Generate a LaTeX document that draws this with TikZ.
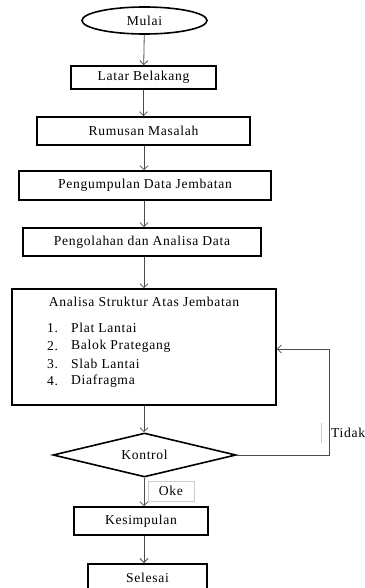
\documentclass[tikz,border=0pt]{standalone}
\usepackage{fontspec}
\setmainfont{Liberation Serif}
\usetikzlibrary{shapes.geometric,arrows.meta}
\begin{document}
\begin{tikzpicture}[x=1pt,y=-1pt,
  txt/.style={font=\fontsize{13.6}{15}\selectfont\addfontfeature{LetterSpace=5}},
  boxn/.style={draw=black,line width=1.6pt,rectangle,inner sep=0pt,txt},
  conn/.style={draw=black!70,line width=0.8pt,-{Straight Barb[length=4pt,width=8pt]}},
  lbl/.style={draw=black!20,line width=0.6pt,fill=white,inner sep=0pt,txt}]
\useasboundingbox (0,0) rectangle (364,588);
\node[draw=black,line width=1.6pt,ellipse,minimum width=125pt,minimum height=27pt,inner sep=0pt,txt] (mulai) at (144.5,20.5) {Mulai};
\node[boxn,minimum width=145pt,minimum height=23pt] (latar) at (143.5,77.5) {Latar Belakang};
\node[boxn,minimum width=213pt,minimum height=28pt] (rumusan) at (143.5,131) {Rumusan Masalah};
\node[boxn,minimum width=252pt,minimum height=29pt] (kumpul) at (145,185.5) {Pengumpulan Data Jembatan};
\node[boxn,minimum width=238pt,minimum height=28pt] (olah) at (142,242) {Pengolahan dan Analisa Data};
\node[boxn,minimum width=264pt,minimum height=116pt] (asb) at (144,347) {};
\node[txt,anchor=center] (asbt) at (144,302) {Analisa Struktur Atas Jembatan};
\node[txt,anchor=west,inner sep=0pt] (i1n) at (47,328) {1.};
\node[txt,anchor=west,inner sep=0pt] (i1) at (71,328) {Plat Lantai};
\node[txt,anchor=west,inner sep=0pt] (i2n) at (47,346) {2.};
\node[txt,anchor=west,inner sep=0pt] (i2) at (71,346) {Balok Prategang};
\node[txt,anchor=west,inner sep=0pt] (i3n) at (47,364) {3.};
\node[txt,anchor=west,inner sep=0pt] (i3) at (71,364) {Slab Lantai};
\node[txt,anchor=west,inner sep=0pt] (i4n) at (47,381) {4.};
\node[txt,anchor=west,inner sep=0pt] (i4) at (71,381) {Diafragma};
\node[draw=black,line width=1.6pt,diamond,aspect=4.16,minimum width=183pt,minimum height=44pt,inner sep=0pt,txt] (kontrol) at (144.5,455) {Kontrol};
\node[boxn,minimum width=134pt,minimum height=28pt] (simpul) at (141,521) {Kesimpulan};
\node[boxn,minimum width=119pt,minimum height=29pt,anchor=north] (selesai) at (147.5,563) {Selesai};
\coordinate (fb1) at (329,455);
\coordinate (fb2) at (329,349);
\draw[conn] (mulai) -- (latar);
\draw[conn] (latar) -- (rumusan);
\draw[conn] (rumusan.south -| 144,0) -- (kumpul.north -| 144,0);
\draw[conn] (kumpul.south -| 144,0) -- (olah.north -| 144,0);
\draw[conn] (olah.south -| 144,0) -- (asb.north -| 144,0);
\draw[conn] (asb.south -| 144,0) -- (kontrol.north -| 144,0);
\draw[conn] (kontrol.south -| 144,0) -- (simpul.north -| 144,0);
\draw[conn] (simpul.south -| 144,0) -- (selesai.north -| 144,0);
\draw[conn] (kontrol.east) -- (fb1) -- (fb2) -- (asb.east |- fb2);
\node[lbl,minimum width=46pt,minimum height=20pt] (oke) at (171,491) {Oke};
\node[txt,anchor=west,fill=white,minimum height=20pt,inner sep=0pt] (tidak) at (331,433) {Tidak};
\draw[black!20,line width=0.6pt] (321,423) -- (321,443);
\end{tikzpicture}
\end{document}
